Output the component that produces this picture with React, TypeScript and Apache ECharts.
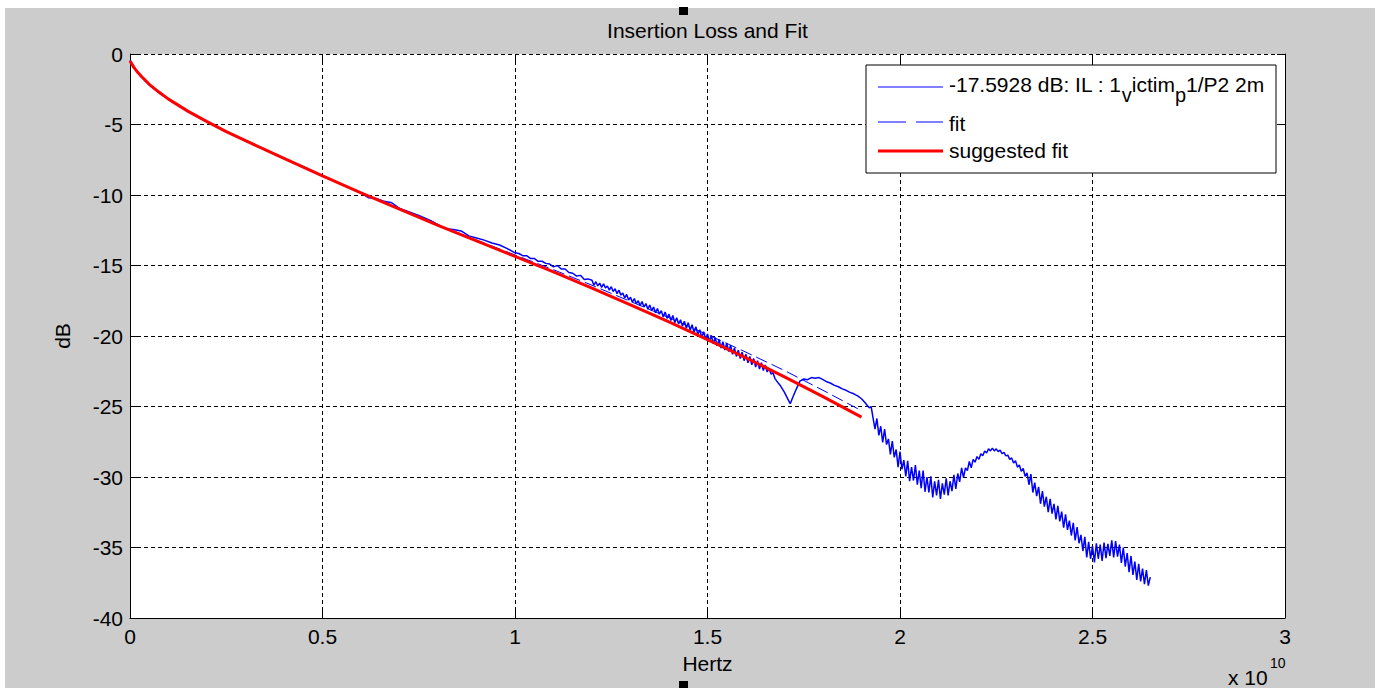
import React, { useEffect, useRef } from "react";
import * as echarts from "echarts";

// ---------- data (frequency in units of 1e10 Hz, loss in dB) ----------
const TITLE = "Insertion Loss and Fit";
const X_NAME = "Hertz";
const Y_NAME = "dB";
const X_MIN = 0;
const X_MAX = 3;
const X_STEP = 0.5;
const Y_MIN = -40;
const Y_MAX = 0;
const Y_STEP = 5;
const X_EXP_BASE = "x 10";
const X_EXP = "10";

const LEGEND_MAIN = ["-17.5928 dB: IL : 1", "ictim", "1/P2 2m"];
const LEGEND_SUBS = ["v", "p"];
const LEGEND_FIT = "fit";
const LEGEND_SUGGESTED = "suggested fit";

const measured: [number, number][] = [
  [0, -0.45], [0.01, -0.9], [0.02, -1.3], [0.03, -1.65], [0.05, -2.2], [0.075, -2.75],
  [0.1, -3.2], [0.15, -4.05], [0.2, -4.8], [0.25, -5.5], [0.3, -6.15], [0.35, -6.75],
  [0.4, -7.4], [0.45, -8.0], [0.5, -8.65], [0.55, -9.25], [0.6, -9.85], [0.62, -10.2],
  [0.64, -10.25], [0.66, -10.45], [0.68, -10.55], [0.7, -10.95], [0.72, -11.15], [0.75, -11.45],
  [0.78, -11.8], [0.8, -12.1], [0.82, -12.4], [0.84, -12.45], [0.86, -12.55], [0.88, -12.9],
  [0.9, -13.05], [0.92, -13.2], [0.94, -13.4], [0.96, -13.55], [0.98, -13.8],
  [1.0, -14.1], [1.01, -14.15], [1.02, -14.3], [1.03, -14.3], [1.04, -14.5], [1.05, -14.5],
  [1.06, -14.7], [1.07, -14.7], [1.08, -14.85], [1.09, -14.9], [1.1, -15.1], [1.11, -15.0],
  [1.12, -15.25], [1.13, -15.25], [1.14, -15.5], [1.15, -15.55], [1.16, -15.75], [1.17, -15.7],
  [1.18, -16.0], [1.19, -15.95],
  [1.2, -16.05], [1.205, -16.4], [1.21, -16.15], [1.215, -16.45], [1.22, -16.25], [1.225, -16.55],
  [1.23, -16.3], [1.235, -16.6], [1.24, -16.45], [1.245, -16.75], [1.25, -16.5], [1.255, -16.85],
  [1.26, -16.65], [1.265, -17.0], [1.27, -16.75], [1.275, -17.1], [1.28, -16.95], [1.285, -17.3],
  [1.29, -17.05], [1.295, -17.45], [1.3, -17.25], [1.305, -17.6], [1.31, -17.35], [1.315, -17.7],
  [1.32, -17.5], [1.325, -17.85], [1.33, -17.55], [1.335, -17.95], [1.34, -17.7], [1.345, -18.1],
  [1.35, -17.8], [1.355, -18.2], [1.36, -17.95], [1.365, -18.35], [1.37, -18.05], [1.375, -18.45],
  [1.38, -18.2], [1.385, -18.65], [1.39, -18.3], [1.395, -18.75], [1.4, -18.45], [1.405, -18.9],
  [1.41, -18.55], [1.415, -19.05], [1.42, -18.7], [1.425, -19.15], [1.43, -18.85], [1.435, -19.3],
  [1.44, -18.95], [1.445, -19.45], [1.45, -19.05], [1.455, -19.6], [1.46, -19.2], [1.465, -19.75],
  [1.47, -19.35], [1.475, -19.9], [1.48, -19.55], [1.485, -20.1], [1.49, -19.7], [1.495, -20.25],
  [1.5, -19.85], [1.505, -20.4], [1.51, -19.95], [1.515, -20.55], [1.52, -20.1], [1.525, -20.7],
  [1.53, -20.25], [1.535, -20.85], [1.54, -20.4], [1.545, -21.0], [1.55, -20.5], [1.555, -21.1],
  [1.56, -20.65], [1.565, -21.3], [1.57, -20.85], [1.575, -21.45], [1.58, -21.0], [1.585, -21.6],
  [1.59, -21.15], [1.595, -21.75], [1.6, -21.3], [1.605, -21.9], [1.61, -21.45], [1.615, -22.05],
  [1.62, -21.6], [1.625, -22.2], [1.63, -21.75], [1.635, -22.35], [1.64, -21.9], [1.645, -22.45],
  [1.65, -22.05], [1.655, -22.55], [1.66, -22.3], [1.665, -22.7], [1.67, -22.6], [1.675, -23.0],
  [1.68, -23.2], [1.69, -23.55], [1.7, -24.0], [1.71, -24.55],
  [1.715, -24.8], [1.72, -24.45], [1.73, -23.8], [1.74, -23.2], [1.75, -23.05], [1.76, -23.1],
  [1.77, -22.95], [1.78, -23.0], [1.79, -22.95], [1.8, -23.1], [1.81, -23.25], [1.82, -23.35],
  [1.83, -23.5], [1.84, -23.6], [1.85, -23.75], [1.86, -23.85], [1.87, -24.0], [1.88, -24.1],
  [1.89, -24.25], [1.9, -24.45], [1.91, -24.75], [1.92, -25.1], [1.925, -25.0], [1.93, -25.8],
  [1.935, -26.6], [1.94, -25.85], [1.945, -27.05], [1.95, -26.4], [1.955, -27.55], [1.96, -26.6],
  [1.965, -27.7], [1.97, -27.3], [1.975, -28.4], [1.98, -27.45], [1.985, -28.6], [1.99, -28.05],
  [1.995, -29.3], [2.0, -28.2], [2.005, -29.45], [2.01, -28.8], [2.015, -29.95], [2.02, -28.85],
  [2.025, -30.3], [2.03, -29.3], [2.035, -30.25], [2.04, -29.15], [2.045, -30.55], [2.05, -29.55],
  [2.055, -30.8], [2.06, -29.55], [2.065, -31.05], [2.07, -30.0], [2.075, -31.1], [2.08, -29.95],
  [2.085, -31.45], [2.09, -30.3], [2.095, -31.3], [2.1, -30.2], [2.105, -31.55], [2.11, -30.45],
  [2.115, -31.25], [2.12, -30.1], [2.125, -31.3], [2.13, -30.3], [2.135, -31.0], [2.14, -29.85],
  [2.145, -30.85], [2.15, -29.75], [2.155, -30.35], [2.16, -29.35], [2.165, -30.05], [2.17, -29.35],
  [2.175, -29.55], [2.18, -28.9], [2.185, -29.35], [2.19, -28.75], [2.195, -28.95], [2.2, -28.55],
  [2.205, -28.75], [2.21, -28.35], [2.215, -28.5], [2.22, -28.15], [2.225, -28.3], [2.23, -28.0],
  [2.235, -28.15], [2.24, -27.95], [2.245, -28.15], [2.25, -28.0], [2.255, -28.2], [2.26, -28.1],
  [2.265, -28.35], [2.27, -28.25], [2.275, -28.5], [2.28, -28.45], [2.285, -28.75], [2.29, -28.65],
  [2.295, -29.0], [2.3, -28.85], [2.305, -29.3], [2.31, -29.15], [2.315, -29.6], [2.32, -29.4],
  [2.325, -29.95], [2.33, -29.7], [2.335, -30.55], [2.34, -29.8], [2.345, -31.1], [2.35, -30.4],
  [2.355, -31.35], [2.36, -30.7], [2.365, -31.9], [2.37, -31.0], [2.375, -32.1], [2.38, -31.4],
  [2.385, -32.5], [2.39, -31.55], [2.395, -32.6], [2.4, -31.9], [2.405, -33.0], [2.41, -32.05],
  [2.415, -33.15], [2.42, -32.45], [2.425, -33.6], [2.43, -32.65], [2.435, -33.75], [2.44, -33.1],
  [2.445, -34.15], [2.45, -33.25], [2.455, -34.5], [2.46, -33.55], [2.465, -34.7], [2.47, -34.1],
  [2.475, -35.25], [2.48, -34.25], [2.485, -35.7], [2.49, -34.6], [2.495, -35.8], [2.5, -34.9],
  [2.505, -36.05], [2.51, -34.7], [2.515, -35.8], [2.52, -34.8], [2.525, -35.95], [2.53, -34.65],
  [2.535, -35.75], [2.54, -34.75], [2.545, -35.6], [2.55, -34.5], [2.555, -35.7], [2.56, -34.55],
  [2.565, -35.65], [2.57, -34.8], [2.575, -36.1], [2.58, -35.0], [2.585, -36.35], [2.59, -35.4],
  [2.595, -36.75], [2.6, -35.6], [2.605, -36.95], [2.61, -36.0], [2.615, -37.3], [2.62, -36.15],
  [2.625, -37.4], [2.63, -36.5], [2.635, -37.6], [2.64, -36.6], [2.645, -37.7], [2.65, -37.1],
];

const fit: [number, number][] = [
  [0, -0.5], [0.01, -0.95], [0.02, -1.3], [0.03, -1.6], [0.05, -2.15], [0.075, -2.7],
  [0.1, -3.2], [0.15, -4.05], [0.2, -4.8], [0.25, -5.5], [0.3, -6.15], [0.4, -7.4],
  [0.5, -8.65], [0.6, -9.85], [0.7, -11.0], [0.8, -12.15], [0.9, -13.2], [1.0, -14.25],
  [1.1, -15.3], [1.2, -16.4], [1.3, -17.55], [1.4, -18.7], [1.5, -19.9], [1.6, -21.15],
  [1.7, -22.45], [1.8, -23.85], [1.9, -25.3],
];

const suggested: [number, number][] = [
  [0, -0.5], [0.01, -0.95], [0.02, -1.3], [0.03, -1.6], [0.05, -2.15], [0.075, -2.7],
  [0.1, -3.2], [0.15, -4.05], [0.2, -4.8], [0.25, -5.5], [0.3, -6.15], [0.4, -7.4],
  [0.5, -8.65], [0.6, -9.85], [0.7, -11.0], [0.8, -12.15], [0.9, -13.25], [1.0, -14.35],
  [1.1, -15.45], [1.2, -16.6], [1.3, -17.8], [1.4, -19.0], [1.5, -20.25], [1.6, -21.55],
  [1.7, -22.9], [1.8, -24.3], [1.9, -25.75],
];

// ---------- styling ----------
const FONT = "'Liberation Sans', Arial, Helvetica, sans-serif";
const FS = 21;
const BLUE = "#0000ff";
const RED = "#ff0000";
const GRID_DASH = [4, 3];

export default function App() {
  const ref = useRef<HTMLDivElement>(null);

  useEffect(() => {
    if (!ref.current) return;
    const chart = echarts.init(ref.current, null, { renderer: "svg" });

    const gridLeft = 130, gridTop = 54, gridRight = 90, gridBottom = 70;
    const W = 1375, H = 688;

    const axisTickStyle = { show: true, inside: true, length: 8, lineStyle: { color: "#000", width: 1 } };
    const splitStyle = { show: true, lineStyle: { color: "#000", type: GRID_DASH, width: 1 } };

    const legX = 866, legY = 65, legW = 410, legH = 108;
    const sampleX1 = 878, sampleX2 = 943, textX = 949;

    const option: any = {
      animation: false,
      backgroundColor: "#ffffff",
      textStyle: { fontFamily: FONT },
      grid: {
        left: gridLeft, top: gridTop, right: gridRight, bottom: gridBottom,
        show: true, backgroundColor: "#ffffff", borderWidth: 0,
      },
      xAxis: [
        {
          type: "value", min: X_MIN, max: X_MAX, interval: X_STEP, position: "bottom",
          axisLine: { show: true, onZero: false, lineStyle: { color: "#000", width: 1 } },
          axisTick: axisTickStyle,
          axisLabel: { color: "#000", fontSize: FS, fontFamily: FONT, margin: 8,
            formatter: (v: number) => String(v) },
          splitLine: splitStyle,
        },
        {
          type: "value", min: X_MIN, max: X_MAX, interval: X_STEP, position: "top",
          axisLine: { show: false },
          axisTick: axisTickStyle,
          axisLabel: { show: false },
          splitLine: { show: false },
        },
      ],
      yAxis: [
        {
          type: "value", min: Y_MIN, max: Y_MAX, interval: Y_STEP, position: "left",
          axisLine: { show: true, onZero: false, lineStyle: { color: "#000", width: 1 } },
          axisTick: axisTickStyle,
          axisLabel: { color: "#000", fontSize: FS, fontFamily: FONT, margin: 7,
            formatter: (v: number) => String(v) },
          splitLine: splitStyle,
        },
        {
          type: "value", min: Y_MIN, max: Y_MAX, interval: Y_STEP, position: "right",
          axisLine: { show: true, onZero: false, lineStyle: { color: "#000", width: 1 } },
          axisTick: axisTickStyle,
          axisLabel: { show: false },
          splitLine: { show: false },
        },
      ],
      series: [
        {
          name: "measured", type: "line", data: measured, xAxisIndex: 0, yAxisIndex: 0,
          showSymbol: false, symbol: "none", lineStyle: { color: BLUE, width: 1.5 }, z: 3,
        },
        {
          name: LEGEND_FIT, type: "line", data: fit, xAxisIndex: 0, yAxisIndex: 0,
          showSymbol: false, symbol: "none", lineStyle: { color: BLUE, width: 1, type: [12, 5] }, z: 4,
        },
        {
          name: LEGEND_SUGGESTED, type: "line", data: suggested, xAxisIndex: 0, yAxisIndex: 0,
          showSymbol: false, symbol: "none", lineStyle: { color: RED, width: 3 }, z: 5,
        },
      ],
      graphic: [
        { type: "rect", z: -100, silent: true, shape: { x: 5, y: 8, width: W - 5, height: H - 8 },
          style: { fill: "#cccccc" } },
        { type: "text", z: 10, x: (gridLeft + W - gridRight) / 2, y: 30,
          style: { text: TITLE, fontSize: FS, fontFamily: FONT, fill: "#000", align: "center", verticalAlign: "middle" } },
        { type: "text", z: 10, x: (gridLeft + W - gridRight) / 2, y: 663,
          style: { text: X_NAME, fontSize: FS, fontFamily: FONT, fill: "#000", align: "center", verticalAlign: "middle" } },
        { type: "text", z: 10, x: 62, y: (gridTop + H - gridBottom) / 2, rotation: Math.PI / 2,
          style: { text: Y_NAME, fontSize: FS, fontFamily: FONT, fill: "#000", align: "center", verticalAlign: "middle" } },
        { type: "text", z: 10, x: 1228, y: 677,
          style: { text: X_EXP_BASE, fontSize: FS, fontFamily: FONT, fill: "#000", align: "left", verticalAlign: "middle" } },
        { type: "text", z: 10, x: 1270, y: 663,
          style: { text: X_EXP, fontSize: 14, fontFamily: FONT, fill: "#000", align: "left", verticalAlign: "middle" } },
        // legend
        { type: "rect", z: 20, shape: { x: legX, y: legY, width: legW, height: legH },
          style: { fill: "#ffffff", stroke: "#000", lineWidth: 1 } },
        { type: "line", z: 21, shape: { x1: sampleX1, y1: 87, x2: sampleX2, y2: 87 },
          style: { stroke: BLUE, lineWidth: 1 } },
        { type: "line", z: 21, shape: { x1: sampleX1, y1: 122, x2: sampleX2, y2: 122 },
          style: { stroke: BLUE, lineWidth: 1, lineDash: [28, 10] } },
        { type: "line", z: 21, shape: { x1: sampleX1, y1: 151, x2: sampleX2, y2: 151 },
          style: { stroke: RED, lineWidth: 3 } },
        { type: "text", z: 21, x: textX, y: 84.5,
          style: {
            text: `{a|${LEGEND_MAIN[0]}}{s|${LEGEND_SUBS[0]}}{a|${LEGEND_MAIN[1]}}{s|${LEGEND_SUBS[1]}}{a|${LEGEND_MAIN[2]}}`,
            align: "left", verticalAlign: "middle", fill: "#000",
            rich: {
              a: { fontSize: FS, fontFamily: FONT, fill: "#000", lineHeight: 22 },
              s: { fontSize: 20, fontFamily: FONT, fill: "#000", lineHeight: 22, padding: [20, 0, 0, 0] },
            },
          } },
        { type: "text", z: 21, x: textX, y: 123.5,
          style: { text: LEGEND_FIT, fontSize: FS, fontFamily: FONT, fill: "#000", align: "left", verticalAlign: "middle" } },
        { type: "text", z: 21, x: textX, y: 150.5,
          style: { text: LEGEND_SUGGESTED, fontSize: FS, fontFamily: FONT, fill: "#000", align: "left", verticalAlign: "middle" } },
        // selection handles
        { type: "rect", z: 30, shape: { x: 679, y: 7, width: 9, height: 8 }, style: { fill: "#000" } },
        { type: "rect", z: 30, shape: { x: 679, y: 681, width: 9, height: 7 }, style: { fill: "#000" } },
      ],
    };

    chart.setOption(option);
    return () => chart.dispose();
  }, []);

  return (
    <div style={{ position: "fixed", left: 0, top: 0, width: 1375, height: 688 }}>
      <div ref={ref} style={{ width: 1375, height: 688 }} />
    </div>
  );
}
